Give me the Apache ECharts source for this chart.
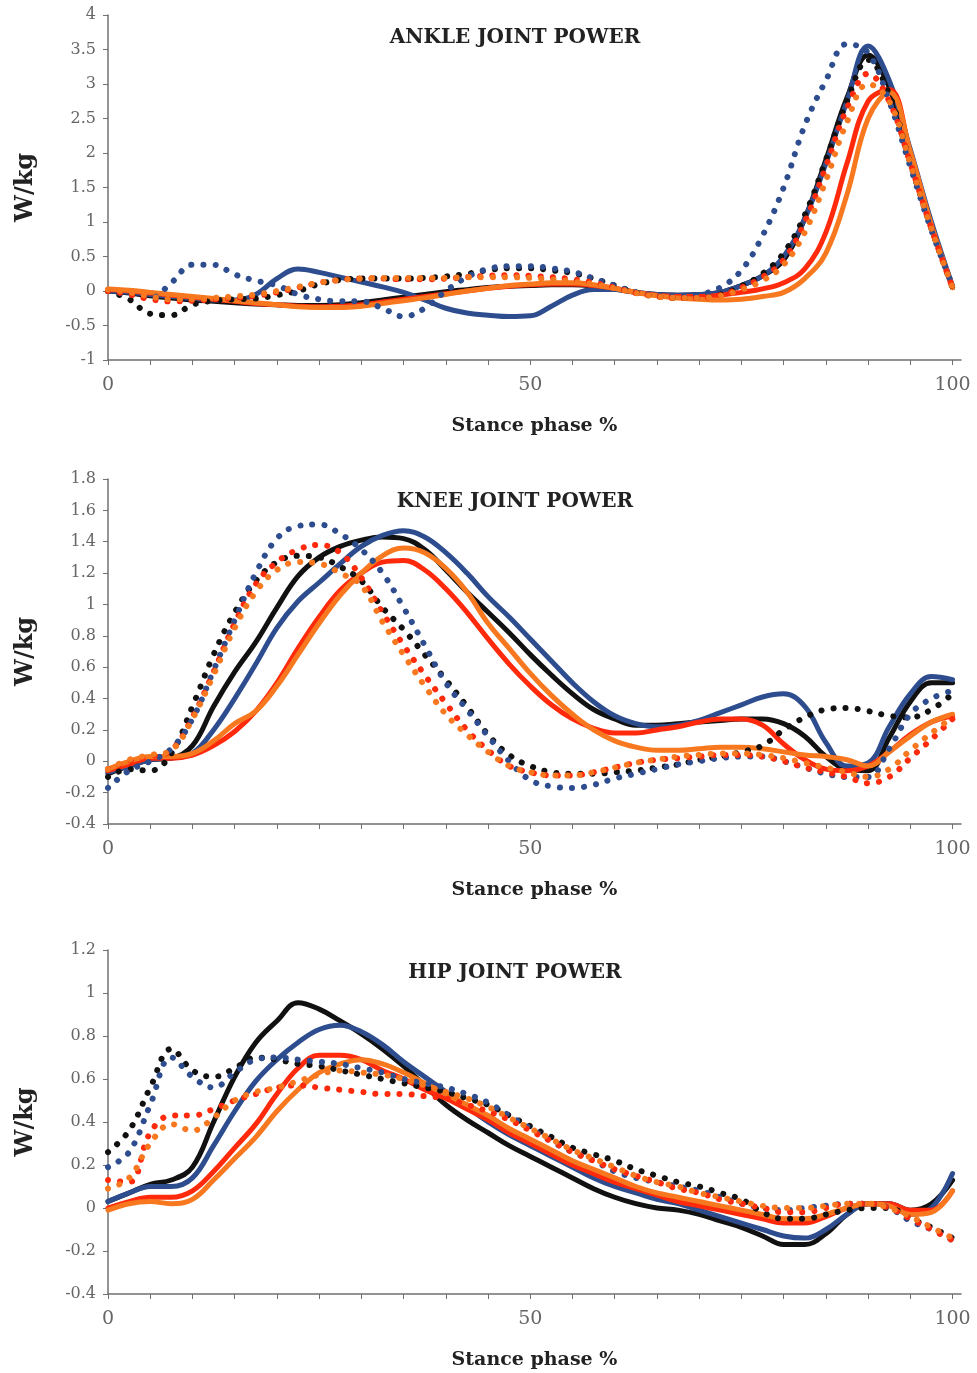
<!DOCTYPE html>
<html>
<head>
<meta charset="utf-8">
<script src="https://cdn.jsdelivr.net/npm/echarts@6/dist/echarts.min.js"></script>
<style>
  html, body { margin: 0; padding: 0; background: #fff; }
  #main { width: 977px; height: 1373px; }
</style>
</head>
<body>
<div id="main"></div>
<script>
// stance phase (%) sample points
var stance = [0, 2.5, 5, 7.5, 10, 12.5, 15, 17.5, 20, 22.5, 25, 27.5, 30, 32.5, 35, 37.5, 40, 42.5, 45, 47.5,
  50, 52.5, 55, 57.5, 60, 62.5, 65, 67.5, 70, 72.5, 75, 77.5, 80, 82.5, 85, 87.5, 90, 92.5, 95, 97.5, 100];
var xTicks = [0, 5, 10, 15, 20, 25, 30, 35, 40, 45, 50, 55, 60, 65, 70, 75, 80, 85, 90, 95, 100];
var xLabels = [0, 50, 100];

// ---- ankle joint power (W/kg)
var ankleBlack = [0, -0.03, -0.07, -0.1, -0.13, -0.15, -0.17, -0.19, -0.2, -0.21, -0.21, -0.2, -0.17, -0.13, -0.09, -0.05, -0.01, 0.02, 0.05, 0.07,
  0.08, 0.09, 0.09, 0.07, 0.03, -0.02, -0.05, -0.06, -0.05, -0.02, 0.08, 0.22, 0.45, 1.05, 1.9, 2.8, 3.42, 2.95, 1.95, 0.95, 0.05];
var ankleBlue = [0, -0.02, -0.05, -0.08, -0.11, -0.13, -0.13, -0.05, 0.18, 0.32, 0.27, 0.2, 0.13, 0.06, -0.02, -0.13, -0.25, -0.32, -0.35, -0.37,
  -0.36, -0.22, -0.06, 0.02, 0.02, -0.02, -0.05, -0.06, -0.05, -0.02, 0.08, 0.22, 0.5, 1.05, 1.85, 2.75, 3.55, 3.05, 2.05, 1.0, 0.07];
var ankleRed = [0.02, 0, -0.03, -0.06, -0.09, -0.12, -0.15, -0.18, -0.2, -0.22, -0.23, -0.22, -0.2, -0.16, -0.12, -0.08, -0.04, 0, 0.04, 0.07,
  0.09, 0.1, 0.1, 0.08, 0.04, -0.02, -0.06, -0.08, -0.08, -0.06, -0.02, 0.03, 0.12, 0.32, 0.85, 1.85, 2.75, 2.92, 2.0, 0.95, 0.05];
var ankleOrange = [0.03, 0.01, -0.02, -0.05, -0.08, -0.11, -0.14, -0.17, -0.2, -0.23, -0.24, -0.24, -0.22, -0.18, -0.14, -0.1, -0.05, 0, 0.04, 0.08,
  0.1, 0.12, 0.12, 0.09, 0.04, -0.02, -0.07, -0.1, -0.12, -0.13, -0.12, -0.08, -0.02, 0.18, 0.55, 1.4, 2.5, 2.88, 2.02, 0.95, 0.05];
var ankleBlackDot = [0, -0.12, -0.33, -0.35, -0.2, -0.14, -0.12, -0.11, -0.06, 0, 0.1, 0.16, 0.18, 0.18, 0.18, 0.19, 0.21, 0.25, 0.3, 0.33,
  0.33, 0.3, 0.26, 0.18, 0.08, -0.02, -0.08, -0.1, -0.1, -0.05, 0.07, 0.25, 0.55, 1.1, 1.9, 2.75, 3.35, 2.85, 1.85, 0.9, 0.05];
var ankleBlueDot = [0, -0.05, -0.1, 0.12, 0.38, 0.38, 0.24, 0.15, 0.08, -0.05, -0.12, -0.15, -0.15, -0.25, -0.37, -0.25, 0, 0.2, 0.32, 0.36,
  0.36, 0.33, 0.28, 0.18, 0.08, -0.02, -0.07, -0.08, -0.05, 0.05, 0.3, 0.8, 1.5, 2.4, 3.05, 3.58, 3.45, 2.75, 1.8, 0.88, 0.07];
var ankleRedDot = [0, -0.05, -0.12, -0.15, -0.14, -0.12, -0.1, -0.07, -0.02, 0.05, 0.12, 0.16, 0.18, 0.18, 0.17, 0.17, 0.18, 0.2, 0.22, 0.23,
  0.22, 0.2, 0.17, 0.12, 0.05, -0.03, -0.08, -0.1, -0.1, -0.06, 0.05, 0.2, 0.45, 1.0, 1.8, 2.65, 3.15, 2.75, 1.85, 0.9, 0.05];
var ankleOrangeDot = [0.02, -0.02, -0.08, -0.12, -0.12, -0.1, -0.08, -0.05, 0, 0.06, 0.12, 0.16, 0.18, 0.19, 0.19, 0.19, 0.19, 0.2, 0.2, 0.2,
  0.19, 0.17, 0.14, 0.1, 0.04, -0.03, -0.08, -0.1, -0.1, -0.07, 0.02, 0.15, 0.38, 0.85, 1.6, 2.45, 3.0, 2.75, 1.85, 0.9, 0.05];

// ---- knee joint power (W/kg)
var kneeBlack = [-0.08, -0.03, 0.01, 0.02, 0.1, 0.35, 0.57, 0.76, 0.98, 1.18, 1.3, 1.37, 1.41, 1.43, 1.42, 1.35, 1.22, 1.08, 0.95, 0.82,
  0.68, 0.55, 0.43, 0.33, 0.27, 0.23, 0.23, 0.24, 0.25, 0.26, 0.27, 0.27, 0.24, 0.16, 0.03, -0.05, -0.06, 0.15, 0.38, 0.5, 0.5];
var kneeBlue = [-0.07, -0.03, 0.01, 0.02, 0.05, 0.2, 0.4, 0.62, 0.85, 1.02, 1.14, 1.26, 1.37, 1.44, 1.47, 1.43, 1.33, 1.2, 1.05, 0.92,
  0.78, 0.64, 0.5, 0.38, 0.29, 0.24, 0.22, 0.23, 0.26, 0.31, 0.36, 0.41, 0.43, 0.35, 0.12, -0.03, -0.01, 0.22, 0.43, 0.54, 0.52];
var kneeRed = [-0.06, -0.02, 0.02, 0.02, 0.04, 0.1, 0.19, 0.32, 0.5, 0.72, 0.92, 1.09, 1.2, 1.27, 1.28, 1.22, 1.1, 0.95, 0.78, 0.62,
  0.48, 0.36, 0.27, 0.21, 0.18, 0.18, 0.2, 0.22, 0.25, 0.27, 0.27, 0.23, 0.11, 0.01, -0.05, -0.06, -0.03, 0.06, 0.17, 0.25, 0.29];
var kneeOrange = [-0.05, 0, 0.03, 0.03, 0.05, 0.13, 0.24, 0.32, 0.48, 0.68, 0.88, 1.06, 1.2, 1.31, 1.36, 1.33, 1.23, 1.08, 0.88, 0.72,
  0.56, 0.42, 0.3, 0.2, 0.13, 0.09, 0.07, 0.07, 0.08, 0.09, 0.09, 0.08, 0.06, 0.04, 0.03, 0.01, -0.03, 0.06, 0.16, 0.25, 0.3];
var kneeBlackDot = [-0.1, -0.05, -0.06, 0.05, 0.35, 0.68, 0.95, 1.15, 1.27, 1.31, 1.3, 1.24, 1.15, 0.98, 0.84, 0.68, 0.52, 0.35, 0.17, 0.04,
  -0.03, -0.07, -0.08, -0.08, -0.07, -0.06, -0.04, -0.02, 0.01, 0.03, 0.06, 0.1, 0.2, 0.28, 0.33, 0.34, 0.32, 0.29, 0.28, 0.33, 0.43];
var kneeBlueDot = [-0.17, -0.06, 0, 0.08, 0.27, 0.58, 0.9, 1.2, 1.42, 1.5, 1.51, 1.45, 1.35, 1.2, 0.98, 0.74, 0.5, 0.33, 0.16, 0,
  -0.12, -0.16, -0.17, -0.15, -0.11, -0.08, -0.05, -0.02, 0, 0.02, 0.03, 0.03, 0, -0.04, -0.08, -0.1, -0.1, 0.08, 0.3, 0.4, 0.45];
var kneeRedDot = [-0.05, 0, 0.03, 0.07, 0.28, 0.57, 0.88, 1.13, 1.27, 1.35, 1.38, 1.33, 1.17, 0.95, 0.74, 0.55, 0.37, 0.2, 0.07, -0.03,
  -0.07, -0.09, -0.09, -0.07, -0.04, -0.01, 0.01, 0.02, 0.03, 0.04, 0.04, 0.03, 0, -0.04, -0.07, -0.1, -0.14, -0.1, 0.02, 0.14, 0.27];
var kneeOrangeDot = [-0.05, 0.01, 0.04, 0.07, 0.27, 0.55, 0.85, 1.08, 1.22, 1.27, 1.26, 1.2, 1.12, 0.89, 0.68, 0.48, 0.3, 0.17, 0.06, -0.03,
  -0.07, -0.09, -0.09, -0.07, -0.04, -0.01, 0.01, 0.03, 0.04, 0.05, 0.05, 0.04, 0.02, -0.01, -0.04, -0.07, -0.1, -0.05, 0.07, 0.18, 0.28];

// ---- hip joint power (W/kg)
var hipBlack = [0.03, 0.07, 0.11, 0.13, 0.19, 0.4, 0.61, 0.77, 0.87, 0.955, 0.925, 0.87, 0.81, 0.74, 0.66, 0.57, 0.48, 0.41, 0.35, 0.29,
  0.24, 0.19, 0.14, 0.09, 0.05, 0.02, 0, -0.01, -0.03, -0.06, -0.09, -0.13, -0.17, -0.17, -0.12, -0.03, 0.02, 0.02, -0.01, 0.02, 0.13];
var hipBlue = [0.03, 0.07, 0.1, 0.1, 0.14, 0.29, 0.45, 0.59, 0.69, 0.77, 0.83, 0.85, 0.82, 0.76, 0.68, 0.61, 0.54, 0.47, 0.4, 0.34,
  0.29, 0.24, 0.19, 0.14, 0.1, 0.07, 0.04, 0.02, -0.01, -0.04, -0.07, -0.1, -0.13, -0.14, -0.1, -0.03, 0.02, 0.02, -0.03, 0, 0.16];
var hipRed = [0, 0.03, 0.05, 0.05, 0.08, 0.17, 0.28, 0.39, 0.53, 0.65, 0.71, 0.71, 0.69, 0.64, 0.6, 0.55, 0.51, 0.46, 0.41, 0.35,
  0.3, 0.25, 0.2, 0.16, 0.12, 0.09, 0.06, 0.03, 0.01, -0.01, -0.03, -0.05, -0.07, -0.07, -0.04, 0, 0.02, 0.02, -0.01, -0.01, 0.08];
var hipOrange = [-0.01, 0.02, 0.03, 0.02, 0.04, 0.13, 0.23, 0.33, 0.45, 0.55, 0.63, 0.67, 0.69, 0.67, 0.63, 0.58, 0.53, 0.48, 0.43, 0.37,
  0.32, 0.27, 0.22, 0.18, 0.14, 0.1, 0.07, 0.05, 0.03, 0.01, -0.01, -0.03, -0.05, -0.05, -0.03, 0, 0.02, 0.01, -0.03, -0.02, 0.08];
var hipBlackDot = [0.26, 0.36, 0.56, 0.74, 0.64, 0.61, 0.65, 0.7, 0.69, 0.67, 0.66, 0.64, 0.62, 0.6, 0.58, 0.56, 0.54, 0.51, 0.48, 0.43,
  0.38, 0.33, 0.28, 0.25, 0.22, 0.18, 0.15, 0.12, 0.1, 0.07, 0.04, -0.02, -0.05, -0.05, -0.03, -0.01, 0, 0, -0.05, -0.09, -0.14];
var hipBlueDot = [0.19, 0.26, 0.48, 0.7, 0.61, 0.56, 0.63, 0.69, 0.7, 0.69, 0.68, 0.67, 0.65, 0.63, 0.6, 0.58, 0.56, 0.53, 0.49, 0.43,
  0.37, 0.31, 0.26, 0.22, 0.17, 0.14, 0.12, 0.1, 0.08, 0.05, 0.02, 0, -0.01, 0, 0.01, 0.02, 0.02, 0, -0.06, -0.1, -0.15];
var hipRedDot = [0.13, 0.12, 0.35, 0.43, 0.43, 0.46, 0.5, 0.53, 0.56, 0.57, 0.56, 0.55, 0.54, 0.53, 0.53, 0.52, 0.51, 0.48, 0.45, 0.41,
  0.36, 0.31, 0.26, 0.22, 0.18, 0.15, 0.12, 0.09, 0.07, 0.04, 0.02, 0, -0.02, -0.02, 0, 0.02, 0.02, 0, -0.05, -0.1, -0.15];
var hipOrangeDot = [0.09, 0.14, 0.3, 0.39, 0.36, 0.42, 0.5, 0.54, 0.56, 0.59, 0.62, 0.64, 0.63, 0.62, 0.6, 0.57, 0.54, 0.51, 0.47, 0.42,
  0.37, 0.32, 0.27, 0.23, 0.19, 0.15, 0.12, 0.1, 0.07, 0.05, 0.03, 0.01, 0, 0, 0.01, 0.02, 0.02, 0, -0.04, -0.09, -0.14];

var titles = ['ANKLE JOINT POWER', 'KNEE JOINT POWER', 'HIP JOINT POWER'];
var yMin = [-1, -0.4, -0.4];
var yMax = [4, 1.8, 1.2];
var yStep = [0.5, 0.2, 0.2];

var colBlack = '#111111', colBlue = '#2d4d8e', colRed = '#ff2a0c', colOrange = '#f7781f';
var serif = '"DejaVu Serif", "Liberation Serif", serif';

var gridTops = [15, 479, 950];
var gridH = [345, 345, 344];

var chart = echarts.init(document.getElementById('main'));

function mkLine(idx, ys, color, dotted) {
	return {
		type: 'line',
		xAxisIndex: idx,
		yAxisIndex: idx,
		data: stance.map(function (x, i) { return [x, ys[i]]; }),
		smooth: 0.4,
		showSymbol: false,
		silent: true,
		z: dotted ? 3 : 2,
		lineStyle: {
			color: color,
			width: dotted ? 6 : 5,
			type: dotted ? [0.1, 12] : 'solid',
			cap: 'round',
			join: 'round'
		}
	};
}

var groups = [
	[ankleBlack, ankleBlue, ankleRed, ankleOrange, ankleBlackDot, ankleBlueDot, ankleRedDot, ankleOrangeDot],
	[kneeBlack, kneeBlue, kneeRed, kneeOrange, kneeBlackDot, kneeBlueDot, kneeRedDot, kneeOrangeDot],
	[hipBlack, hipBlue, hipRed, hipOrange, hipBlackDot, hipBlueDot, hipRedDot, hipOrangeDot]
];
var cols = [colBlack, colBlue, colRed, colOrange, colBlack, colBlue, colRed, colOrange];

var option = {
	animation: false,
	backgroundColor: '#fff',
	title: [],
	grid: [],
	xAxis: [],
	yAxis: [],
	series: []
};

for (var k = 0; k < 3; k++) {
	option.title.push({
		text: titles[k],
		left: 510,
		top: gridTops[k] + 8,
		textAlign: 'center',
		textStyle: { fontFamily: serif, fontWeight: 'bold', fontSize: 20, color: '#222' }
	});
	option.grid.push({ left: 108, top: gridTops[k], width: 853, height: gridH[k] });
	option.xAxis.push({
		type: 'value',
		gridIndex: k,
		min: 0,
		max: 101,
		name: 'Stance phase %',
		nameLocation: 'middle',
		nameGap: 57,
		nameTextStyle: { fontFamily: serif, fontWeight: 'bold', fontSize: 19, color: '#222' },
		splitLine: { show: false },
		axisLine: { onZero: false, lineStyle: { color: '#707070', width: 1.5 } },
		axisTick: { customValues: xTicks, length: 5, lineStyle: { color: '#707070' } },
		axisLabel: { customValues: xLabels, margin: 16, fontFamily: serif, fontSize: 19, color: '#666' }
	});
	option.yAxis.push({
		type: 'value',
		gridIndex: k,
		min: yMin[k],
		max: yMax[k],
		interval: yStep[k],
		name: 'W/kg',
		nameLocation: 'middle',
		nameGap: 70,
		nameTextStyle: { fontFamily: serif, fontWeight: 'bold', fontSize: 24, color: '#222' },
		splitLine: { show: false },
		axisLine: { show: true, lineStyle: { color: '#707070', width: 1.5 } },
		axisTick: { show: true, length: 5, lineStyle: { color: '#707070' } },
		axisLabel: { margin: 12, fontFamily: serif, fontSize: 16, color: '#666' }
	});
	for (var s = 0; s < 8; s++) {
		option.series.push(mkLine(k, groups[k][s], cols[s], s >= 4));
	}
}

chart.setOption(option);
</script>
</body>
</html>
